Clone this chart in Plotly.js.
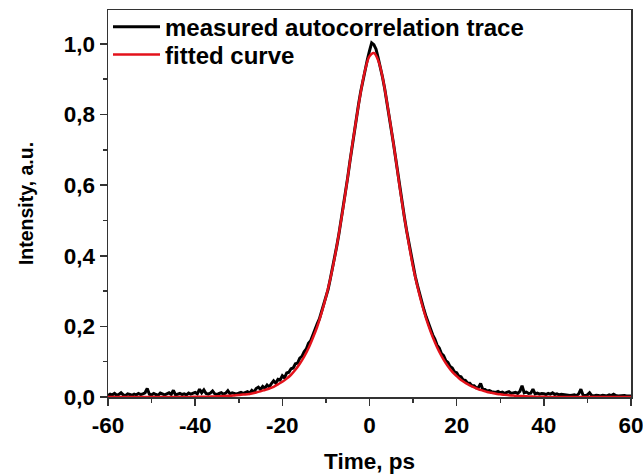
<!DOCTYPE html>
<html><head><meta charset="utf-8">
<script src="https://cdn.plot.ly/plotly-3.0.1.min.js"></script>
<style>body{margin:0;background:#fff}#c{width:643px;height:475px}</style>
</head><body><div id="c"></div>
<script>
// Measured autocorrelation trace, sampled every 0.5 ps from -60 to 60 ps
const measuredStart = -60, measuredStep = 0.5;
const measured = [
0.004,0.008,0.006,0.010,0.005,0.007,0.012,0.006,0.004,0.009,
0.007,0.005,0.008,0.006,0.010,0.007,0.009,0.012,0.024,0.008,
0.006,0.010,0.007,0.005,0.011,0.008,0.006,0.009,0.012,0.007,
0.019,0.006,0.008,0.010,0.007,0.009,0.006,0.011,0.008,0.010,
0.013,0.009,0.022,0.012,0.020,0.010,0.008,0.011,0.017,0.009,
0.007,0.010,0.012,0.008,0.011,0.018,0.009,0.012,0.010,0.008,
0.011,0.013,0.010,0.012,0.015,0.011,0.019,0.014,0.024,0.028,
0.021,0.030,0.025,0.034,0.028,0.038,0.046,0.039,0.050,0.048,
0.060,0.054,0.068,0.070,0.080,0.082,0.094,0.096,0.110,0.115,
0.128,0.136,0.152,0.159,0.177,0.189,0.207,0.221,0.242,0.257,
0.283,0.305,0.334,0.362,0.394,0.428,0.463,0.500,0.540,0.580,
0.622,0.666,0.710,0.751,0.790,0.830,0.866,0.898,0.928,0.955,
0.980,1.003,0.998,0.985,0.960,0.935,0.905,0.872,0.836,0.798,
0.758,0.718,0.676,0.632,0.590,0.548,0.510,0.472,0.437,0.403,
0.371,0.342,0.316,0.291,0.268,0.247,0.227,0.208,0.193,0.176,
0.164,0.147,0.139,0.123,0.117,0.103,0.098,0.086,0.082,0.071,
0.069,0.059,0.057,0.048,0.047,0.040,0.039,0.032,0.032,0.026,
0.027,0.038,0.021,0.021,0.017,0.018,0.015,0.015,0.013,0.016,
0.012,0.014,0.010,0.013,0.015,0.010,0.011,0.013,0.010,0.016,
0.032,0.012,0.014,0.010,0.011,0.022,0.009,0.011,0.008,0.010,
0.009,0.007,0.010,0.008,0.012,0.007,0.009,0.006,0.008,0.007,
0.005,0.006,0.004,0.005,0.006,0.004,0.009,0.022,0.005,0.004,
0.006,0.012,0.004,0.003,0.005,0.004,0.003,0.005,0.004,0.003,
0.006,0.004,0.008,0.004,0.003,0.004,0.003,0.004,0.003,0.004,
0.003
];
// Fitted curve, every 1 ps from -60 to 60 ps
const fitStart = -60, fitStep = 1;
const fitted = [
0,0,0,0,0,0,0,0,0,0,
0,0,0,0,0,0,0,0,0,0,
0.001,0.001,0.001,0.001,0.0015,0.002,0.0023,0.003,0.0035,0.0045,
0.0055,0.007,0.008,0.010,0.013,0.016,0.020,0.024,0.029,0.036,
0.043,0.052,0.063,0.077,0.094,0.114,0.138,0.167,0.199,0.238,
0.283,0.334,0.394,0.464,0.539,0.622,0.710,0.789,0.864,0.926,
0.965,0.974,0.953,0.905,0.835,0.758,0.676,0.588,0.508,0.435,
0.368,0.313,0.264,0.222,0.186,0.155,0.128,0.106,0.087,0.071,
0.059,0.048,0.040,0.033,0.027,0.022,0.018,0.014,0.012,0.009,
0.0075,0.006,0.005,0.004,0.003,0.0025,0.002,0.0015,0.001,0.001,
0.001,0,0,0,0,0,0,0,0,0,
0,0,0,0,0,0,0,0,0,0,
0
];
const seriesNames = ["measured autocorrelation trace", "fitted curve"];
const xTickVals = [-60,-40,-20,0,20,40,60];
const xTickText = ["-60","-40","-20","0","20","40","60"];
const yTickVals = [0,0.2,0.4,0.6,0.8,1.0];
const yTickText = ["0,0","0,2","0,4","0,6","0,8","1,0"];

const tM = measured.map((_, i) => measuredStart + i*measuredStep);
const tF = fitted.map((_, i) => fitStart + i*fitStep);

const fam = "Liberation Sans, Arial, sans-serif";
const tickFont = {family: fam, size: 22.5, color: "#000", weight: 700};
const legFont = {family: fam, size: 24, color: "#000", weight: 700};
const axisCommon = {
  showgrid: false, zeroline: false, showline: true, linecolor: "#333", linewidth: 1.5,
  mirror: true, ticks: "outside", ticklen: 7, tickwidth: 1.5, tickcolor: "#333",
  tickfont: tickFont, ticklabeloverflow: "allow"
};
const legBase = {x: 0, xanchor: "left", yanchor: "middle", bgcolor: "rgba(0,0,0,0)",
                 itemwidth: 47, font: legFont};

Plotly.newPlot("c", [
  {x: tM, y: measured, type: "scatter", mode: "lines", name: seriesNames[0],
   legend: "legend", line: {color: "#000", width: 3}},
  {x: tF, y: fitted, type: "scatter", mode: "lines", name: seriesNames[1],
   legend: "legend2", line: {color: "#e3121b", width: 2.5, shape: "spline"}}
], {
  width: 643, height: 475,
  margin: {l: 108, r: 12, t: 10, b: 78, autoexpand: false},
  paper_bgcolor: "#fff", plot_bgcolor: "#fff",
  showlegend: true,
  legend: Object.assign({}, legBase, {y: 0.956}),
  legend2: Object.assign({}, legBase, {y: 0.884}),
  xaxis: Object.assign({}, axisCommon, {
    range: [-60, 60], tickvals: xTickVals, ticktext: xTickText,
    minor: {dtick: 10, ticklen: 4, tickwidth: 1.5, tickcolor: "#333", ticks: "outside"},
    title: {text: "Time, ps", font: {family: fam, size: 22.5, color: "#000", weight: 700}, standoff: 16}
  }),
  yaxis: Object.assign({}, axisCommon, {
    range: [0, 1.096], tickvals: yTickVals, ticktext: yTickText,
    minor: {dtick: 0.1, ticklen: 4, tickwidth: 1.5, tickcolor: "#333", ticks: "outside"},
    title: {text: "Intensity, a.u.", font: {family: fam, size: 19.5, color: "#000", weight: 700}, standoff: 25}
  })
}, {staticPlot: true});
</script>
</body></html>
